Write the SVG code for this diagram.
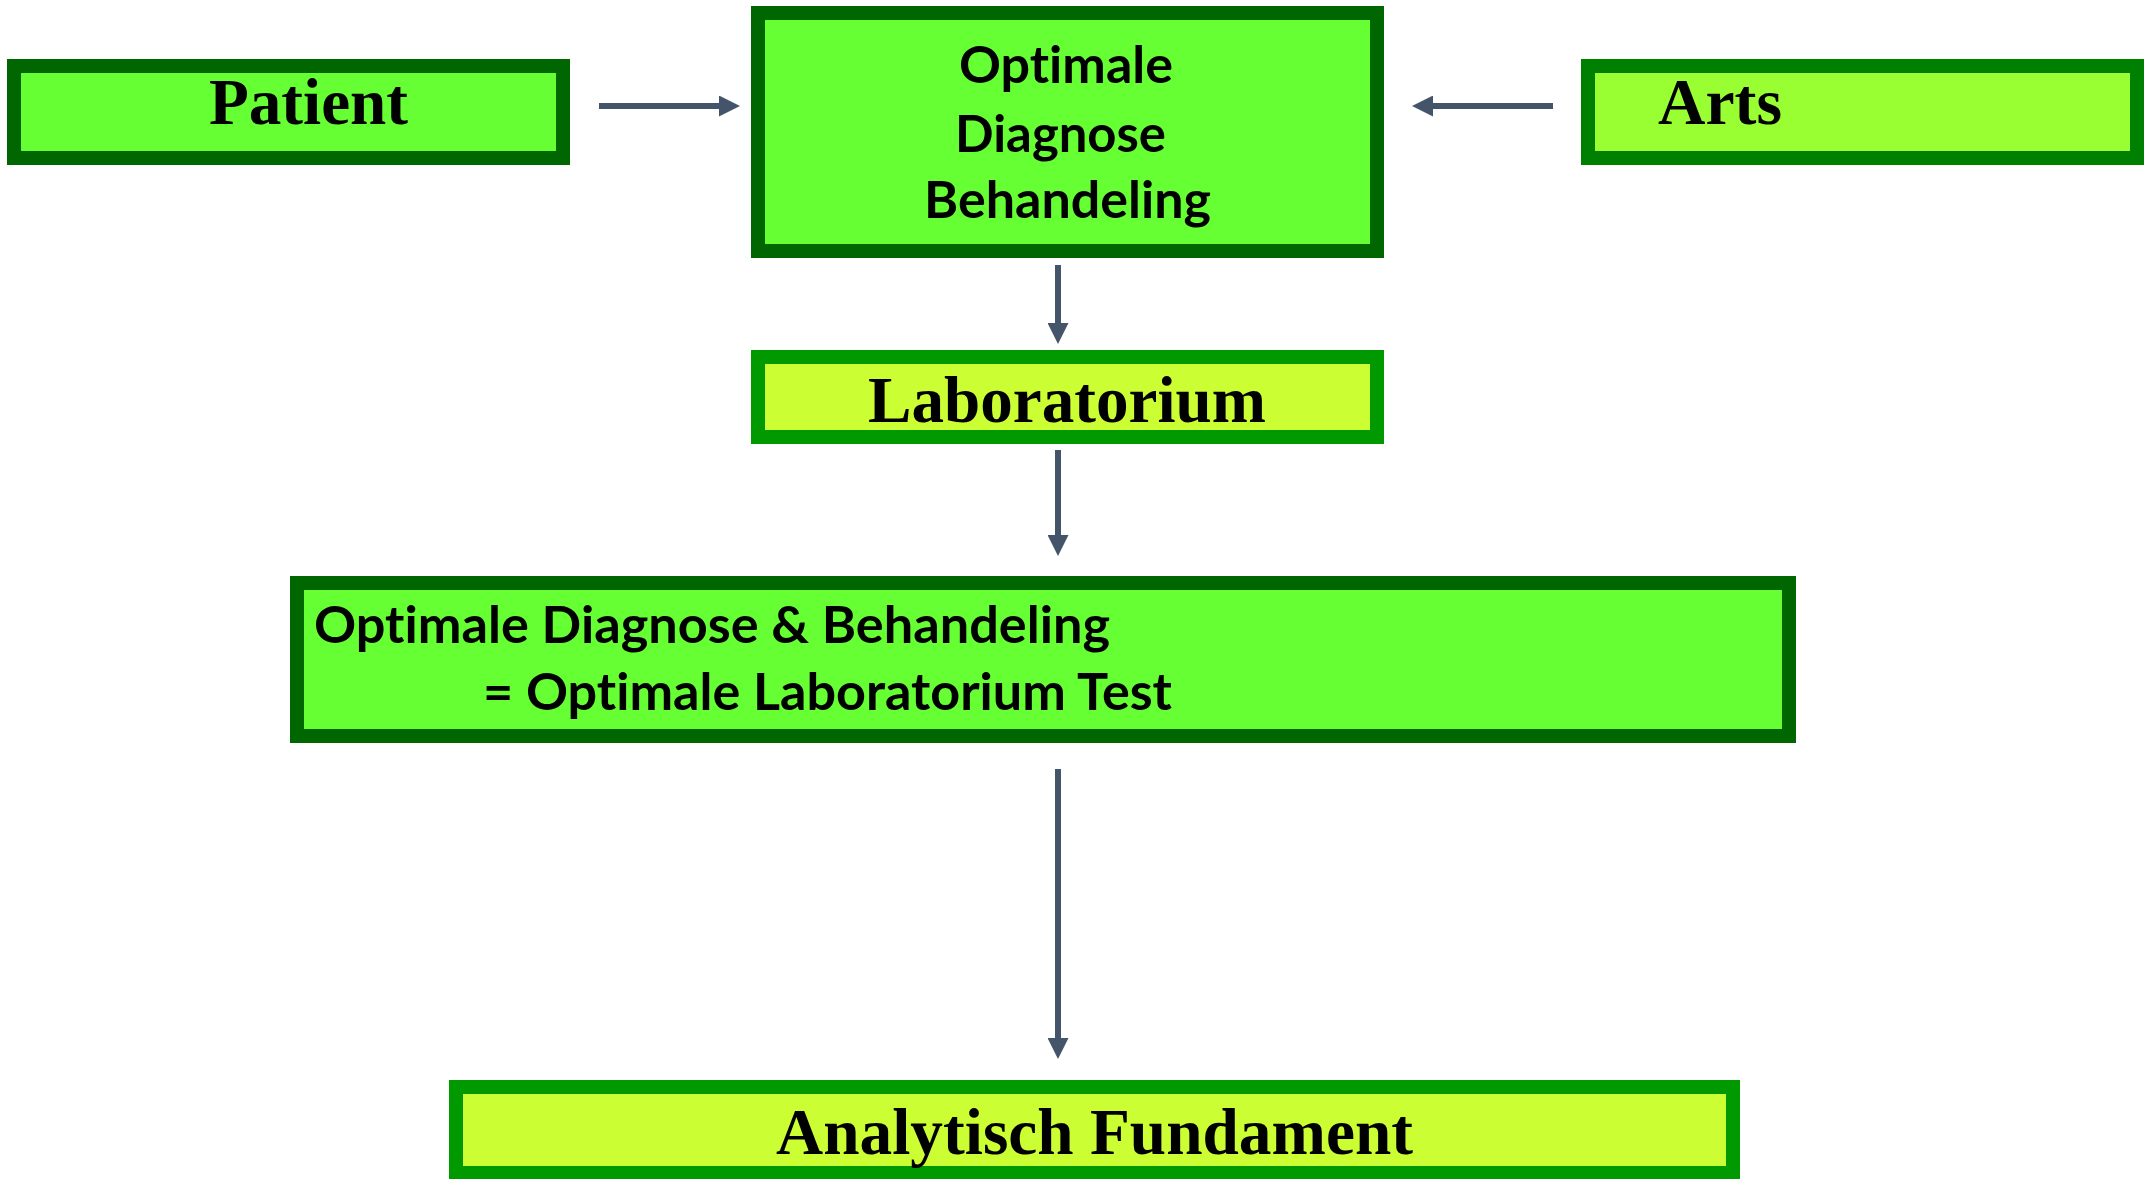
<svg xmlns="http://www.w3.org/2000/svg" width="2149" height="1179" viewBox="0 0 2149 1179">
<style>
.box{stroke-width:14}
.dk{stroke:#006600;fill:#66FF33}
.ar{stroke:#008000;fill:#99FF33}
.lb{stroke:#009900;fill:#CCFF33}
.serif{font-family:"Liberation Serif","Times New Roman",serif;font-weight:bold;font-size:66px;fill:#000}
.sans{font-family:Lato,"Open Sans",sans-serif;font-weight:bold;font-size:51px;fill:#000;font-variant-ligatures:none;font-feature-settings:"liga" 0,"clig" 0}
.conn{stroke:#44546A;stroke-width:6;fill:none}
</style>
<defs>
<marker id="ah" markerUnits="userSpaceOnUse" markerWidth="21" markerHeight="21" refX="0" refY="10.5" orient="auto">
<path d="M0,0 L21,10.5 L0,21 z" fill="#44546A"/>
</marker>
</defs>
<rect width="2149" height="1179" fill="#fff"/>
<g id="connectors">
<line class="conn" x1="599" y1="106" x2="719" y2="106" marker-end="url(#ah)"/>
<line class="conn" x1="1553" y1="106" x2="1433" y2="106" marker-end="url(#ah)"/>
<line class="conn" x1="1058" y1="265" x2="1058" y2="323" marker-end="url(#ah)"/>
<line class="conn" x1="1058" y1="450" x2="1058" y2="535" marker-end="url(#ah)"/>
<line class="conn" x1="1058" y1="769" x2="1058" y2="1038" marker-end="url(#ah)"/>
</g>
<g id="patient">
<rect class="box dk" x="14" y="66" width="549" height="92"/>
<text class="serif" x="209" y="124" textLength="199" lengthAdjust="spacingAndGlyphs">Patient</text>
</g>
<g id="optimale">
<rect class="box dk" x="758" y="13" width="619" height="238"/>
<text class="sans" x="959" y="83" textLength="214" lengthAdjust="spacingAndGlyphs">Optimale</text>
<text class="sans" x="955" y="152" textLength="211" lengthAdjust="spacingAndGlyphs">Diagnose</text>
<text class="sans" x="924" y="218" textLength="287" lengthAdjust="spacingAndGlyphs">Behandeling</text>
</g>
<g id="arts">
<rect class="box ar" x="1588" y="66" width="549" height="92"/>
<text class="serif" x="1658" y="124" textLength="124" lengthAdjust="spacingAndGlyphs">Arts</text>
</g>
<g id="laboratorium">
<rect class="box lb" x="758" y="357" width="619" height="80"/>
<text class="serif" x="868" y="422" textLength="398" lengthAdjust="spacingAndGlyphs">Laboratorium</text>
</g>
<g id="optimale-test">
<rect class="box dk" x="297" y="583" width="1492" height="153"/>
<text class="sans" x="314" y="643" textLength="796" lengthAdjust="spacingAndGlyphs">Optimale Diagnose &amp; Behandeling</text>
<text class="sans" x="483" y="710" textLength="689" lengthAdjust="spacingAndGlyphs">= Optimale Laboratorium Test</text>
</g>
<g id="analytisch">
<rect class="box lb" x="456" y="1087" width="1277" height="86"/>
<text class="serif" x="776" y="1154" textLength="637" lengthAdjust="spacingAndGlyphs">Analytisch Fundament</text>
</g>
</svg>
